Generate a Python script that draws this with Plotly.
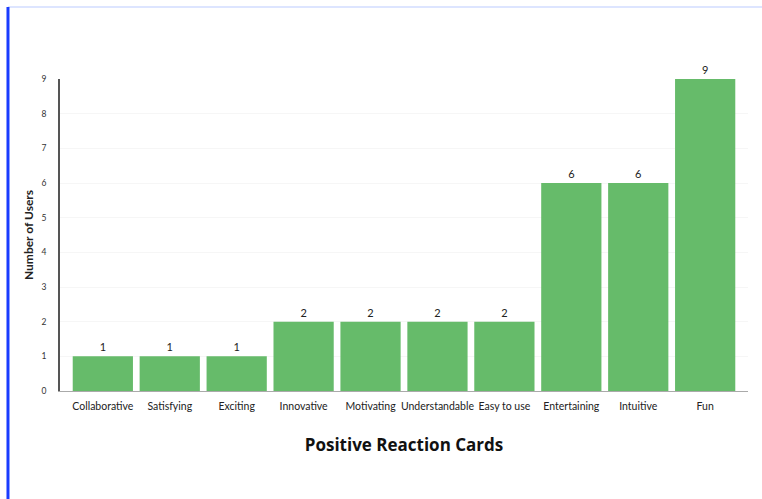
import plotly.graph_objects as go

categories = ["Collaborative", "Satisfying", "Exciting", "Innovative", "Motivating",
              "Understandable", "Easy to use", "Entertaining", "Intuitive", "Fun"]
users = [1, 1, 1, 2, 2, 2, 2, 6, 6, 9]
y_ticks = [0, 1, 2, 3, 4, 5, 6, 7, 8, 9]

FONT = "Lato, 'Noto Sans', sans-serif"
WIDE = "'Open Sans', 'Noto Sans', sans-serif"

fig = go.Figure(go.Bar(
    x=categories, y=users, text=users, textposition="outside",
    marker=dict(color="#66bb6a", line=dict(width=0)),
    width=0.9, cliponaxis=False,
    textfont=dict(size=11, color="#222", family=FONT),
))

fig.update_layout(
    width=762, height=499,
    margin=dict(l=60, r=14, t=79, b=108),
    paper_bgcolor="white", plot_bgcolor="white",
    showlegend=False,
    font=dict(family=FONT, color="#222"),
    xaxis=dict(
        range=[-0.64, 9.64], showgrid=False, showline=True, linecolor="#aaaaaa", linewidth=1,
        ticks="", tickfont=dict(size=10.5, color="#222"), ticklabelstandoff=5,
        title=dict(text="<b>Positive Reaction Cards</b>",
                   font=dict(size=17, color="#111", family=WIDE), standoff=28),
        fixedrange=True,
    ),
    yaxis=dict(
        range=[0, 9], tickvals=y_ticks, showgrid=True, gridcolor="#f6f6f6",
        showline=True, linecolor="#555555", linewidth=1.5, zeroline=False,
        ticks="", tickfont=dict(size=8.5, color="#333"), ticklabelstandoff=10,
        title=dict(text="<b>Number of Users</b>", font=dict(size=12, color="#222"), standoff=5),
        fixedrange=True,
    ),
    shapes=[
        dict(type="line", xref="paper", yref="paper", x0=-0.0756, x1=1.03,
             y0=1.231, y1=1.231, line=dict(color="#dde5ff", width=2)),
        dict(type="line", xref="paper", yref="paper", x0=-0.0756, x1=-0.0756,
             y0=1.231, y1=-0.36, line=dict(color="#1a3cff", width=3)),
    ],
)

fig.write_html("out.html")
